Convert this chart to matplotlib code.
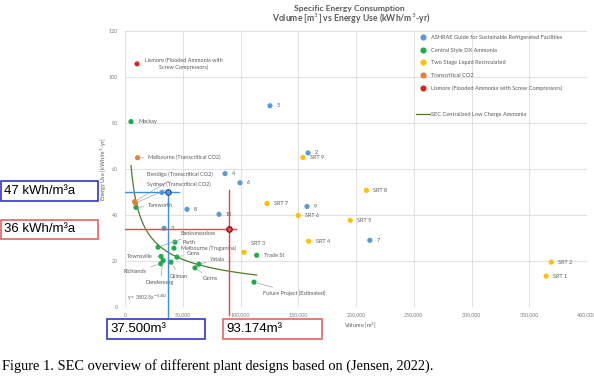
import matplotlib.pyplot as plt
from matplotlib.lines import Line2D
from matplotlib.patches import Rectangle
from matplotlib.ticker import FuncFormatter
import numpy as np

W, H = 594, 385

# ASHRAE Guide for Sustainable Refrigerated Facilities
ashrae_labels = ['', '2', '3', '4', '5', '6', '7', '8', '9', '10']
ashrae_vol = [32000, 158500, 33800, 86600, 125500, 99600, 212000, 53700, 157600, 81400]
ashrae_sec = [49.8, 67.0, 34.2, 58.0, 87.5, 54.0, 29.0, 42.5, 43.7, 40.3]

# Central Style DX Ammonia
dx_labels = ['Mackay', 'Tamworth', 'Banksmeadow', 'Perth', 'Melbourne (Truganina)', 'Cams',
             'Townsville', 'Richlands', 'Dandenong', 'Gillman', 'Yatala', 'Cairns',
             'Trade St', 'Future Project (Estimated)']
dx_vol = [5200, 9500, 28600, 43300, 42400, 45000, 31200, 31000, 33000, 39800, 64000, 60600,
          114000, 111700]
dx_sec = [80.6, 43.3, 26.0, 28.2, 25.6, 21.7, 22.0, 18.8, 20.2, 19.5, 18.6, 17.0, 22.5, 10.8]

# Two Stage Liquid Recirculated
srt_labels = ['SRT 1', 'SRT 2', 'SRT 3', 'SRT 4', 'SRT 5', 'SRT 6', 'SRT 7', 'SRT 8', 'SRT 9']
srt_vol = [364600, 369000, 103000, 159000, 195000, 150000, 123000, 209000, 154000]
srt_sec = [13.4, 19.5, 23.8, 28.6, 37.7, 39.8, 45.0, 50.7, 65.0]

# Transcritical CO2
co2_labels = ['Melbourne (Transcritical CO2)', 'Bendigo (Transcritical CO2)', 'Sydney (Transcritical CO2)']
co2_vol = [10900, 8300, 9000]
co2_sec = [64.9, 45.8, 45.2]

# Lismore
lis_labels = ['Lismore (Flooded Ammonia with\nScrew Compressors)']
lis_vol = [10400]
lis_sec = [105.7]

# power trend line (SEC Centralized Low Charge Ammonia)
trend_a, trend_b = 3802.5, -0.482
trend_range = [5200, 114000]

# highlighted reference cases
ref_vol = [37500, 90000]
ref_sec = [49.8, 33.9]

series = [
    ('ASHRAE Guide for Sustainable Refrigerated Facilities', '#5b9bd5', ashrae_labels, ashrae_vol, ashrae_sec),
    ('Central Style DX Ammonia', '#1faa4b', dx_labels, dx_vol, dx_sec),
    ('Two Stage Liquid Recirculated', '#ffc000', srt_labels, srt_vol, srt_sec),
    ('Transcritical CO2', '#ed7d31', co2_labels, co2_vol, co2_sec),
    ('Lismore (Flooded Ammonia with Screw Compressors)', '#d9261c', lis_labels, lis_vol, lis_sec),
]

# label placement (pixel offsets, alignment, leader line)
offsets = {
    'Tamworth': (12, 2, 'left', True),
    'Banksmeadow': (22, 14, 'left', True),
    'Cams': (10, 4, 'left', True),
    'Townsville': (-8, 0, 'right', True),
    'Richlands': (-14, -8, 'right', True),
    'Dandenong': (-3, -22, 'center', True),
    'Gillman': (-1, -14, 'left', True),
    'Yatala': (11, 5, 'left', True),
    'Cairns': (8, -11, 'left', True),
    'Future Project (Estimated)': (9, -11, 'left', True),
    'Melbourne (Transcritical CO2)': (10, 0, 'left', True),
    'Bendigo (Transcritical CO2)': (12, 27, 'left', True),
    'Sydney (Transcritical CO2)': (12, 19, 'left', True),
    'SRT 3': (7, 9, 'left', False),
    'Lismore (Flooded Ammonia with\nScrew Compressors)': (47, 0, 'center', False),
}


def fx(x):
    return x / W


def fy(y):
    return 1 - y / H


fig = plt.figure(figsize=(W / 100, H / 100), dpi=100)
fig.patch.set_facecolor('white')
ax = fig.add_axes([fx(125), fy(307), 462 / W, 276 / H])

gray = '#595959'
for name, color, labels, vol, sec in series:
    ax.scatter(vol, sec, s=14, color=color, edgecolors='none', zorder=4)
    for lab, x, y in zip(labels, vol, sec):
        if not lab:
            continue
        dx, dy, ha, lead = offsets.get(lab, (7, 0, 'left', False))
        ax.annotate(lab, (x, y), xytext=(dx, dy), textcoords='offset pixels',
                    ha=ha, va='center', fontsize=4.0, color=gray, family='Lato',
                    multialignment='center', zorder=5,
                    arrowprops=dict(arrowstyle='-', color='#a6a6a6', lw=0.5,
                                    shrinkA=1, shrinkB=2) if lead else None)

tx = np.linspace(trend_range[0], trend_range[1], 200)
ax.plot(tx, trend_a * tx ** trend_b, color='#4e7d2a', lw=0.9, zorder=3)
ax.text(2000, 3, 'y = 3802.5x$^{-0.482}$', fontsize=3.6, color=gray, family='Lato')

# reference crosshairs
ax.plot([0, 46800], [ref_sec[0], ref_sec[0]], color='#3d8fe0', lw=1.0, zorder=6)
ax.plot([ref_vol[0], ref_vol[0]], [51, -4.5], color='#3d8fe0', lw=1.0, zorder=6, clip_on=False)
ax.plot([0, 96500], [ref_sec[1], ref_sec[1]], color='#e0474c', lw=1.0, zorder=6)
ax.plot([ref_vol[1], ref_vol[1]], [51, -3.5], color='#e0474c', lw=1.0, zorder=6, clip_on=False)
ax.scatter(ref_vol[:1], ref_sec[:1], s=16, color='#5b9bd5', edgecolors='#1f4e9a', lw=0.8, zorder=7)
ax.scatter(ref_vol[1:], ref_sec[1:], s=16, color='#e0474c', edgecolors='#8b0000', lw=0.8, zorder=7)

ax.set_xlim(0, 400000)
ax.set_ylim(0, 120)
ax.set_xticks(np.arange(0, 400001, 50000))
ax.set_yticks(np.arange(0, 121, 20))
ax.xaxis.set_major_formatter(FuncFormatter(lambda v, p: f'{int(v):,}'))
ax.tick_params(length=0, labelsize=3.8, colors='#7f7f7f')
ax.tick_params(axis='x', pad=4)
ax.tick_params(axis='y', pad=5)
for t in ax.get_xticklabels() + ax.get_yticklabels():
    t.set_family('Lato')
ax.grid(color='#dcdcdc', lw=0.6)
ax.set_axisbelow(True)
for s in ax.spines.values():
    s.set_visible(False)

handles = [Line2D([], [], marker='o', ls='none', color=c, markersize=3.4) for _, c, *_ in series]
labels = [n for n, *_ in series]
handles += [Line2D([], [], ls='none'), Line2D([], [], color='#4e7d2a', lw=0.9)]
labels += [' ', 'SEC Centralized Low Charge Ammonia']
leg = ax.legend(handles, labels, loc='upper left', bbox_to_anchor=(fx(416), fy(35)),
                bbox_transform=fig.transFigure, frameon=False, fontsize=4.1,
                handlelength=2.5, handletextpad=0.2, labelspacing=1.35,
                borderpad=0, borderaxespad=0)
for t in leg.get_texts():
    t.set_color(gray)
    t.set_family('Lato')

fig.text(fx(349), fy(8), 'Specific Energy Consumption', ha='center', va='center',
         fontsize=6.1, fontweight='bold', color=gray, family='Lato')
fig.text(fx(351), fy(19), 'Volume [m$^3$] vs Energy Use (kWh/m$^3$-yr)', ha='center', va='center',
         fontsize=6.2, fontweight='bold', color=gray, family='Lato')
fig.text(fx(104), fy(169), 'Energy Use [kWh/m$^3$-yr]', rotation=90, ha='center', va='center',
         fontsize=4.1, color=gray, family='Lato')
fig.text(fx(360), fy(325), 'Volume [m$^3$]', ha='center', va='center',
         fontsize=4.1, color=gray, family='Lato')

# overlay boxes
boxes = [
    ('47 kWh/m³a', 1, 181, 97, 20, '#3535c8'),
    ('36 kWh/m³a', 1, 220, 97, 19, '#e06666'),
    ('37.500m³', 107, 319, 98, 20, '#3535c8'),
    ('93.174m³', 223, 319, 99, 20, '#e06666'),
]
for txt, x0, y0, bw, bh, ec in boxes:
    fig.add_artist(Rectangle((fx(x0), fy(y0 + bh)), bw / W, bh / H, transform=fig.transFigure,
                             fill=False, ec=ec, lw=1.2))
    fig.text(fx(x0 + 3), fy(y0 + bh / 2), txt, ha='left', va='center', fontsize=9.5,
             color='black', family='Liberation Sans')

fig.text(fx(2), fy(366), 'Figure 1. SEC overview of different plant designs based on (Jensen, 2022).',
         ha='left', va='center', fontsize=10.4, color='black', family='Liberation Serif')

fig.savefig('out.png', dpi=100)
